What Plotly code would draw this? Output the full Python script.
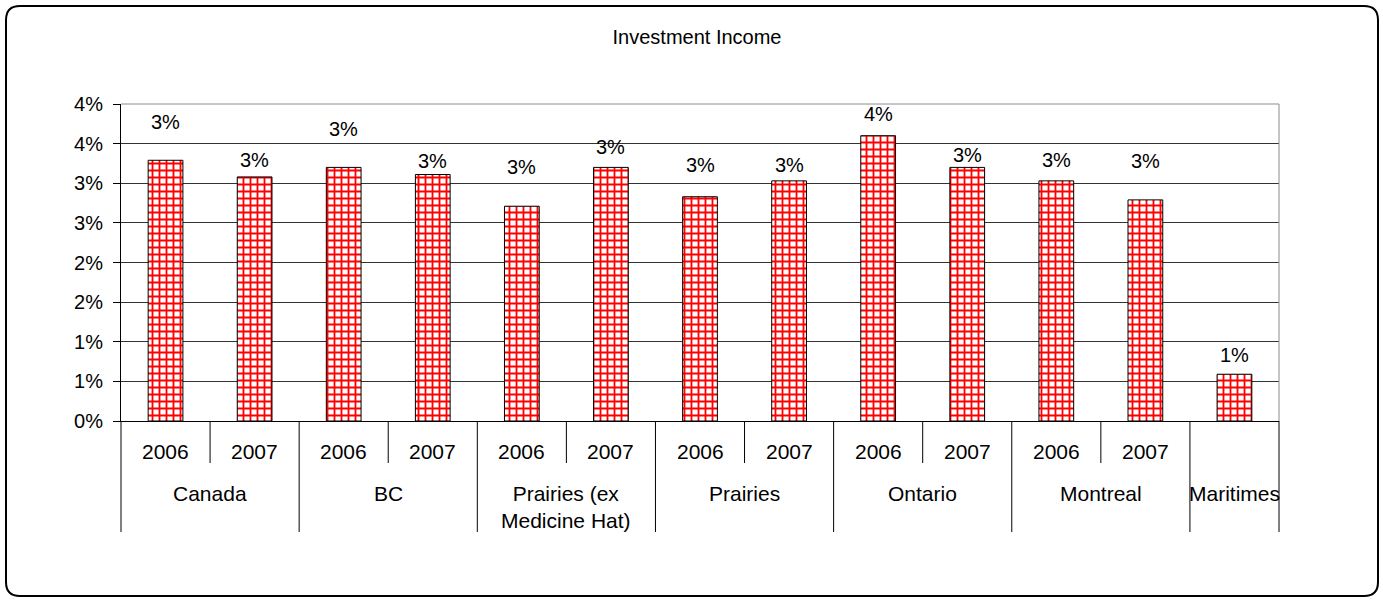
import plotly.graph_objects as go

# data
groups = ["Canada", "Canada", "BC", "BC",
          "Prairies (ex<br>Medicine Hat)", "Prairies (ex<br>Medicine Hat)",
          "Prairies", "Prairies", "Ontario", "Ontario",
          "Montreal", "Montreal", "Maritimes"]
years = ["2006", "2007", "2006", "2007", "2006", "2007", "2006", "2007",
         "2006", "2007", "2006", "2007", ""]
income = [0.0329, 0.0308, 0.0320, 0.0311, 0.0271, 0.0320, 0.0283, 0.0303,
          0.0360, 0.0320, 0.0303, 0.0279, 0.0059]
tick_vals = [0, 0.005, 0.01, 0.015, 0.02, 0.025, 0.03, 0.035, 0.04]
tick_text = ["0%", "1%", "1%", "2%", "2%", "3%", "3%", "4%", "4%"]

# style: how far each data label sits above its bar (px)
label_lift = [38, 17, 38, 14, 39, 20, 32, 16, 22, 12, 21, 39, 19]

FONT = "Liberation Sans, Arial, sans-serif"
FS = 20
W, H = 1383, 601
L, T, R, B = 121, 104, 1279, 421   # plot area in pixels


def px(x):
    return (x - L) / (R - L)


def py(y):
    return (B - y) / (B - T)


n = len(income)
xs = list(range(n))

fig = go.Figure()
fig.add_trace(go.Bar(
    x=xs, y=income, width=0.39,
    marker=dict(color="white", line=dict(color="black", width=1),
                pattern=dict(shape="+", fgcolor="#ff0000", bgcolor="white",
                             size=7, solidity=0.45, fillmode="replace")),
    hoverinfo="skip",
))

annotations = []
# data labels
for i, v in enumerate(income):
    annotations.append(dict(x=i, y=v, xref="x", yref="y", text=f"{v:.0%}",
                            showarrow=False, yanchor="middle",
                            yshift=label_lift[i], font=dict(size=FS)))

shapes = []
# category table below the axis
for i, yr in enumerate(years):
    if yr:
        annotations.append(dict(x=i, y=py(451), xref="x", yref="paper", text=yr,
                                showarrow=False, yanchor="middle",
                                font=dict(size=21)))

# group spans
spans = []
for i, g in enumerate(groups):
    if spans and spans[-1][0] == g:
        spans[-1][2] = i
    else:
        spans.append([g, i, i])

for g, a, b in spans:
    annotations.append(dict(x=(a + b) / 2, y=py(480), xref="x", yref="paper",
                            text=g, showarrow=False, yanchor="top",
                            font=dict(size=21)))

# vertical dividers
bounds = {}
for g, a, b in spans:
    bounds[a] = "group"
    bounds[b + 1] = "group"
    for k in range(a + 1, b + 1):
        bounds.setdefault(k, "year")
for k, kind in bounds.items():
    xp = k / n
    y_end = py(532) if kind == "group" else py(463)
    shapes.append(dict(type="line", xref="paper", yref="paper",
                       x0=xp, x1=xp, y0=0, y1=y_end,
                       line=dict(color="black", width=1)))

# gray top and right border of plot area
shapes.append(dict(type="path", xref="paper", yref="paper", layer="above",
                   path="M 0,1 L 1,1 L 1,0",
                   line=dict(color="#8c8c8c", width=1)))

# rounded outer frame
x0, x1, y0, y1 = px(6), px(1378), py(6), py(596)
rx, ry = 14 / (R - L), 14 / (B - T)
frame = (f"M {x0 + rx},{y0} L {x1 - rx},{y0} Q {x1},{y0} {x1},{y0 - ry} "
         f"L {x1},{y1 + ry} Q {x1},{y1} {x1 - rx},{y1} "
         f"L {x0 + rx},{y1} Q {x0},{y1} {x0},{y1 + ry} "
         f"L {x0},{y0 - ry} Q {x0},{y0} {x0 + rx},{y0} Z")
shapes.append(dict(type="path", xref="paper", yref="paper", path=frame,
                   line=dict(color="black", width=2)))

fig.update_layout(
    width=W, height=H,
    margin=dict(l=L, r=W - R, t=T, b=H - B),
    paper_bgcolor="white", plot_bgcolor="white",
    font=dict(family=FONT, size=FS, color="black"),
    title=dict(text="Investment Income", x=697 / W, xanchor="center",
               y=1 - 37 / H, yanchor="middle", font=dict(size=FS)),
    showlegend=False,
    bargap=0.6,
    annotations=annotations,
    shapes=shapes,
)
fig.update_xaxes(range=[-0.5, n - 0.5], showticklabels=False, ticks="",
                 showgrid=False, zeroline=False, showline=True,
                 linecolor="black", linewidth=1, fixedrange=True)
fig.update_yaxes(range=[0, 0.04], tickvals=tick_vals, ticktext=tick_text,
                 ticks="outside", ticklen=7, tickcolor="black",
                 ticklabelstandoff=6,
                 showgrid=True, gridcolor="#333333", gridwidth=1,
                 zeroline=False, showline=True, linecolor="black",
                 linewidth=1, fixedrange=True)

# page body has a default margin; drop it so the figure fills the window
fig.write_html("out.html", config={"displayModeBar": False},
               post_script="document.body.style.margin = '0';")
